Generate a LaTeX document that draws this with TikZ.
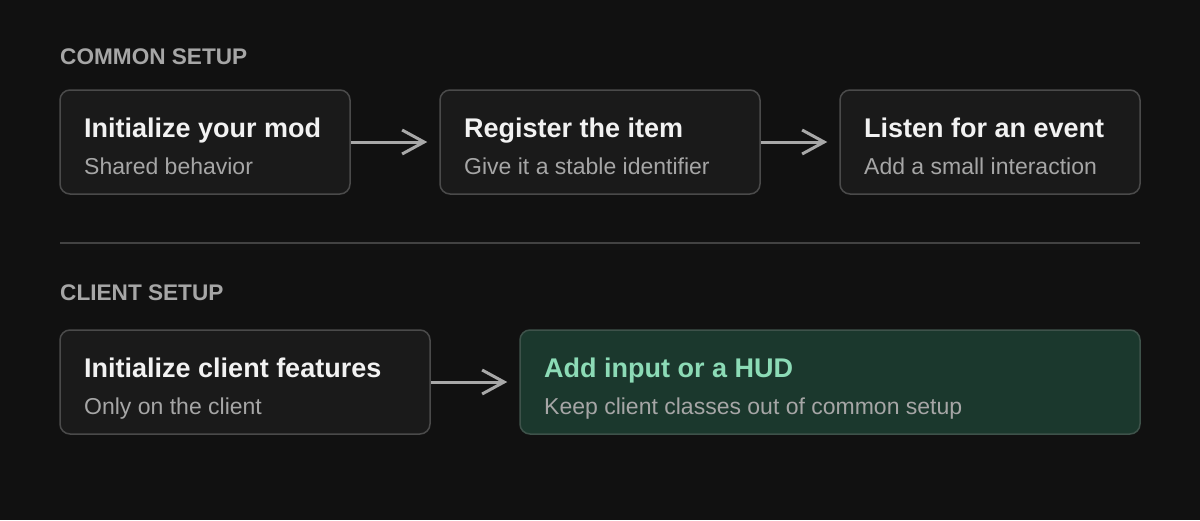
\documentclass[tikz,border=0pt]{standalone}
\usepackage{fontspec}
\setmainfont{Liberation Sans}
\usetikzlibrary{arrows.meta}

\definecolor{bgdark}{HTML}{111111}
\definecolor{cardfill}{HTML}{1A1A1A}
\definecolor{cardline}{HTML}{4A4A4A}
\definecolor{titletext}{HTML}{F2F2F2}
\definecolor{subtext}{HTML}{A6A6A6}
\definecolor{arrowgrey}{HTML}{A8A8A8}
\definecolor{rulegrey}{HTML}{424242}
\definecolor{greenfill}{HTML}{1B382D}
\definecolor{greenline}{HTML}{3E524A}
\definecolor{greentext}{HTML}{8CDBB6}

\begin{document}
\begin{tikzpicture}[x=1pt, y=-1pt,
    card/.style={draw=cardline, fill=cardfill, line width=1.5pt,
      rounded corners=10pt, minimum height=104pt, inner sep=0pt},
    greencard/.style={card, draw=greenline, fill=greenfill},
    cardtitle/.style={anchor=base west, inner sep=0pt, text=titletext,
      font=\fontsize{27}{31}\selectfont\bfseries},
    cardsub/.style={anchor=base west, inner sep=0pt, text=subtext,
      font=\fontsize{23}{27}\selectfont},
    section/.style={anchor=base west, inner sep=0pt, text=subtext,
      font=\fontsize{22.6}{26}\selectfont\bfseries},
    flow/.style={draw=arrowgrey, line width=3pt, shorten >=12pt,
      -{Straight Barb[length=22pt, width=24pt]}}
    ]

    % Background
    \fill[bgdark] (0,0) rectangle (1200,520);
    \useasboundingbox (0,0) rectangle (1200,520);

    % Common setup
    \node[section] (common) at (60,64) {COMMON SETUP};

    \node[card, minimum width=290pt] (mod) at (205,142) {};
    \node[cardtitle] (mod-t) at (84,137) {Initialize your mod};
    \node[cardsub] (mod-s) at (84,174) {Shared behavior};

    \node[card, minimum width=320pt] (item) at (600,142) {};
    \node[cardtitle] (item-t) at (464,137) {Register the item};
    \node[cardsub] (item-s) at (464,174) {Give it a stable identifier};

    \node[card, minimum width=300pt] (event) at (990,142) {};
    \node[cardtitle] (event-t) at (864,137) {Listen for an event};
    \node[cardsub] (event-s) at (864,174) {Add a small interaction};

    \draw[flow] (mod.east) -- (item.west);
    \draw[flow] (item.east) -- (event.west);

    % Divider
    \draw[rulegrey, line width=2pt] (60,243) -- (1140,243);

    % Client setup
    \node[section] (client) at (60,300) {CLIENT SETUP};

    \node[card, minimum width=370pt] (clientinit) at (245,382) {};
    \node[cardtitle] (clientinit-t) at (84,377) {Initialize client features};
    \node[cardsub] (clientinit-s) at (84,414) {Only on the client};

    \node[greencard, minimum width=620pt] (hud) at (830,382) {};
    \node[cardtitle, text=greentext] (hud-t) at (544,377) {Add input or a HUD};
    \node[cardsub] (hud-s) at (544,414) {Keep client classes out of common setup};

    \draw[flow] (clientinit.east) -- (hud.west);

\end{tikzpicture}
\end{document}
